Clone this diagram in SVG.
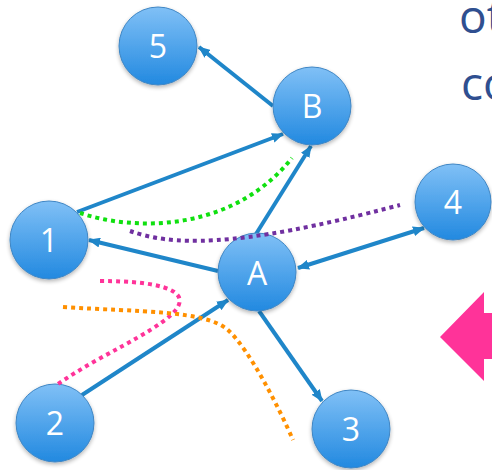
<svg xmlns="http://www.w3.org/2000/svg" width="492" height="470" viewBox="0 0 492 470">
<defs>
<linearGradient id="g" x1="0" y1="0" x2="0" y2="1">
<stop offset="0" stop-color="#80c0f6"/>
<stop offset="1" stop-color="#2289e0"/>
</linearGradient>
<filter id="sh" x="-30%" y="-30%" width="160%" height="160%">
<feGaussianBlur in="SourceAlpha" stdDeviation="2"/>
<feOffset dx="0" dy="2" result="b"/>
<feComponentTransfer><feFuncA type="linear" slope="0.3"/></feComponentTransfer>
<feMerge><feMergeNode/><feMergeNode in="SourceGraphic"/></feMerge>
</filter>
<marker id="ah" viewBox="0 0 12 10" refX="11" refY="5" markerWidth="12" markerHeight="10" markerUnits="userSpaceOnUse" orient="auto-start-reverse">
<path d="M0,0 L12,5 L0,10 z" fill="#1f86c9"/>
</marker>
</defs>
<style>
.node circle{fill:url(#g);stroke:#3f86c4;stroke-width:1;filter:url(#sh)}
.node text{font-family:"Open Sans","Liberation Sans",sans-serif;font-size:32px;fill:#fff;text-anchor:middle}
.edge{stroke:#1f86c9;stroke-width:4;fill:none;marker-end:url(#ah)}
.dot{fill:none;stroke-width:4;stroke-dasharray:4 4}
.cap{font-family:"Open Sans","Liberation Sans",sans-serif;font-size:46px;fill:#2f4f90}
</style>
<rect width="492" height="470" fill="#fff"/>
<text class="cap" x="459" y="33">ot</text>
<text class="cap" x="461" y="100">co</text>
<g id="connectors">
<line class="edge" x1="273" y1="106" x2="199" y2="47"/>
<line class="edge" x1="77" y1="212" x2="283" y2="134"/>
<line class="edge" x1="256" y1="234" x2="311" y2="146"/>
<line class="edge" x1="218" y1="271" x2="89" y2="240"/>
<line class="edge" x1="298" y1="268" x2="424" y2="228" style="marker-start:url(#ah)"/>
<line class="edge" x1="82" y1="395" x2="228" y2="300"/>
<line class="edge" x1="259" y1="311" x2="322" y2="401"/>
</g>
<g id="n5" class="node"><circle cx="158" cy="46" r="39"/><text x="158" y="58">5</text></g>
<g id="nB" class="node"><circle cx="312" cy="106" r="39"/><text x="312" y="118">B</text></g>
<g id="n1" class="node"><circle cx="49" cy="240" r="39"/><text x="49" y="252">1</text></g>
<g id="nA" class="node"><circle cx="257" cy="272" r="39"/><text x="257" y="285">A</text></g>
<g id="n4" class="node"><circle cx="453" cy="202" r="38"/><text x="453" y="214">4</text></g>
<g id="n2" class="node"><circle cx="55" cy="423" r="39"/><text x="55" y="435">2</text></g>
<g id="n3" class="node"><circle cx="351" cy="429" r="39"/><text x="351" y="441">3</text></g>
<g id="cuts">
<path class="dot" stroke="#10e010" d="M80,213 C130,230 230,235 292,158"/>
<path class="dot" stroke="#7030a0" d="M130,231 C170,245 230,250 400,205"/>
<path class="dot" stroke="#ff3399" d="M100,281 C165,281 195,292 172,314 C150,335 100,355 58,384"/>
<path class="dot" stroke="#ff9000" d="M63,307 C140,312 205,310 228,330 C250,350 280,410 293,440"/>
</g>
<path id="bigarrow" d="M440,337 L484,292 L484,313 L492,313 L492,359 L484,359 L484,381 z" fill="#ff3399"/>
</svg>
